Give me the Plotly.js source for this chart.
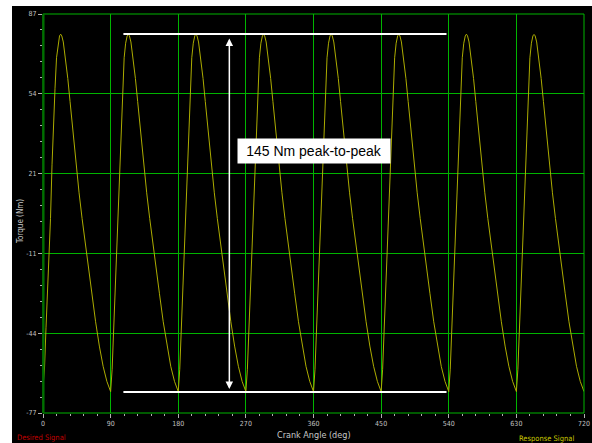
<!DOCTYPE html>
<html>
<head>
<meta charset="utf-8">
<script src="https://cdn.plot.ly/plotly-3.0.1.min.js"></script>
<style>
  html, body { margin: 0; padding: 0; background: #ffffff; width: 592px; height: 443px; overflow: hidden; }
  #chart { position: absolute; left: 12px; top: 6px; width: 580px; height: 437px; }
</style>
</head>
<body>
<div id="chart"></div>
<script>
// ---- data ----
const cycleStartAngle = [0, 90, 180, 270, 360, 450, 540, 630];
const cycleAngleOffset = [0, 2, 4, 6, 8, 10, 12, 14, 16, 18, 20, 22, 23.5, 25, 27, 30, 33, 36, 40, 44, 48, 52, 56, 60, 65, 70, 75, 80, 85];
const torqueCycle1 = [-66.5, -58.5, -42, -27, -14, 3, 25, 43, 56.5, 69, 75, 78, 78.7, 78, 75.5, 69, 60.5, 51, 38, 24.5, 13.5, 3, -7, -16.5, -28, -39.5, -49.5, -57.8, -64];
const torqueCycle2 = [-68.2, -59, -42, -27, -14, 3, 25, 43, 56.5, 69, 75, 78, 78.6, 78, 75.5, 69, 60.5, 51, 38, 24.5, 13.5, 3, -7, -16.5, -28, -39.5, -49.5, -57.8, -64];
const torqueCycle3 = [-68.2, -59, -42, -27, -14, 3, 25, 43, 56.5, 69, 75, 78, 78.7, 78, 75.5, 69, 60.5, 51, 38, 24.5, 13.5, 3, -7, -16.5, -28, -39.5, -49.5, -57.8, -64];
const torqueCycle4 = [-68.2, -59, -42, -27, -14, 3, 25, 43, 56.5, 69, 75, 78, 78.6, 78, 75.5, 69, 60.5, 51, 38, 24.5, 13.5, 3, -7, -16.5, -28, -39.5, -49.5, -57.8, -64];
const torqueCycle5 = [-68.2, -59, -42, -27, -14, 3, 25, 43, 56.5, 69, 75, 78, 78.7, 78, 75.5, 69, 60.5, 51, 38, 24.5, 13.5, 3, -7, -16.5, -28, -39.5, -49.5, -57.8, -64];
const torqueCycle6 = [-68.2, -59, -42, -27, -14, 3, 25, 43, 56.5, 69, 75, 78, 78.6, 78, 75.5, 69, 60.5, 51, 38, 24.5, 13.5, 3, -7, -16.5, -28, -39.5, -49.5, -57.8, -64];
const torqueCycle7 = [-68.2, -59, -42, -27, -14, 3, 25, 43, 56.5, 69, 75, 78, 78.7, 78, 75.5, 69, 60.5, 51, 38, 24.5, 13.5, 3, -7, -16.5, -28, -39.5, -49.5, -57.8, -64];
const torqueCycle8 = [-68.2, -59, -42, -27, -14, 3, 25, 43, 56.5, 69, 75, 78, 78.6, 78, 75.5, 69, 60.5, 51, 38, 24.5, 13.5, 3, -7, -16.5, -28, -39.5, -49.5, -57.8, -64];
const finalAngle = 720;
const finalTorque = -68.2;

const yTickVals = [-77, -44.2, -11.4, 21.4, 54.2, 87];
const yTickText = ['-77', '-44', '-11', '21', '54', '87'];
const xTickVals = [0, 90, 180, 270, 360, 450, 540, 630, 720];

// reference annotation values
const refAngleRange = [107, 537];
const peakTorque = 78.8;
const troughTorque = -68.4;
const arrowAngle = 248;
const labelText = '145 Nm peak-to-peak';
const labelAngle = 361;
const labelTorque = 30.7;

// ---- build series ----
const cycles = [torqueCycle1, torqueCycle2, torqueCycle3, torqueCycle4, torqueCycle5, torqueCycle6, torqueCycle7, torqueCycle8];
const angle = [], torque = [];
cycles.forEach((c, i) => {
  c.forEach((v, j) => { angle.push(cycleStartAngle[i] + cycleAngleOffset[j]); torque.push(v); });
});
angle.push(finalAngle); torque.push(finalTorque);

const narrow = 'Liberation Sans Narrow, DejaVu Sans Condensed, Arial, sans-serif';
const grid = '#00b400';

const trace = {
  x: angle, y: torque, type: 'scatter', mode: 'lines',
  line: { color: '#acac00', width: 1 }, hoverinfo: 'skip'
};

const layout = {
  width: 580, height: 437,
  margin: { l: 31, r: 8, t: 8, b: 30 },
  paper_bgcolor: '#000000', plot_bgcolor: '#000000',
  showlegend: false,
  xaxis: {
    range: [0, 720], tickmode: 'array', tickvals: xTickVals,
    showgrid: true, gridcolor: grid, gridwidth: 1,
    showline: false, zeroline: false,
    ticks: 'outside', ticklen: 4, tickcolor: '#b0b0b0', tickwidth: 1,
    tickfont: { family: narrow, size: 7, color: '#c0c0c0' },
    minor: { tick0: 0, dtick: 18, ticks: 'outside', ticklen: 2, tickcolor: '#b0b0b0', showgrid: false, gridcolor: grid, gridwidth: 1 }
  },
  yaxis: {
    range: [-77, 87], tickmode: 'array', tickvals: yTickVals, ticktext: yTickText,
    showgrid: true, gridcolor: grid, gridwidth: 1,
    showline: false, zeroline: false,
    ticks: 'outside', ticklen: 4, tickcolor: '#b0b0b0', tickwidth: 1,
    tickfont: { family: narrow, size: 7, color: '#c0c0c0' },
    minor: { tick0: -77, dtick: 6.56, ticks: 'outside', ticklen: 2, tickcolor: '#b0b0b0', showgrid: false, gridcolor: grid, gridwidth: 1 }
  },
  shapes: [
    { type: 'rect', xref: 'paper', yref: 'paper', x0: 0, x1: 1, y0: 0, y1: 1, line: { color: grid, width: 1 }, layer: 'above' },
    { type: 'line', xref: 'paper', yref: 'paper', x0: 0.001, x1: 0.001, y0: 0, y1: 1, line: { color: '#007000', width: 2 }, layer: 'above' },
    { type: 'line', xref: 'x', yref: 'y', x0: refAngleRange[0], x1: refAngleRange[1], y0: peakTorque, y1: peakTorque, line: { color: '#ffffff', width: 2 } },
    { type: 'line', xref: 'x', yref: 'y', x0: refAngleRange[0], x1: refAngleRange[1], y0: troughTorque, y1: troughTorque, line: { color: '#ffffff', width: 2 } }
  ],
  annotations: [
    { x: arrowAngle, y: troughTorque, ax: arrowAngle, ay: peakTorque, axref: 'x', ayref: 'y', xref: 'x', yref: 'y',
      text: '', showarrow: true, arrowside: 'end+start', arrowhead: 2, arrowsize: 1, arrowwidth: 1.5, arrowcolor: '#ffffff', standoff: 3, startstandoff: 3 },
    { x: labelAngle, y: labelTorque, xref: 'x', yref: 'y', text: labelText, showarrow: false,
      font: { family: 'Arial, Liberation Sans, sans-serif', size: 14, color: '#000000' },
      bgcolor: '#ffffff', borderpad: 3, width: 146, height: 18 },
    { x: 0.5, y: 0, xref: 'paper', yref: 'paper', text: 'Crank Angle (deg)', showarrow: false,
      xanchor: 'center', yanchor: 'middle', font: { family: narrow, size: 9, color: '#c8c8c8' } },
    { text: 'Torque (Nm)', textangle: -90, showarrow: false, xref: 'paper', yref: 'paper', x: 0, y: 0.5,
      xanchor: 'center', yanchor: 'middle', font: { family: narrow, size: 8, color: '#c8c8c8' } },
    { text: 'Desired Signal', showarrow: false, xref: 'paper', yref: 'paper', x: 0, y: 0,
      xanchor: 'left', yanchor: 'middle', font: { family: narrow, size: 7.5, color: '#c00000' } },
    { text: 'Response Signal', showarrow: false, xref: 'paper', yref: 'paper', x: 1, y: 0,
      xanchor: 'right', yanchor: 'middle', font: { family: narrow, size: 7.5, color: '#c8c800' } }
  ]
};

// place text annotations in pixels relative to the plot area (541 x 399, top-left at page 43,14)
const ph = 399;
layout.annotations[2].yshift = -(435 - 6 - 8 - ph);
layout.annotations[3].xshift = (20 - 12) - 31;
layout.annotations[3].yshift = -((222 - 6) - (8 + ph / 2));
layout.annotations[4].xshift = (15 - 12) - 31; layout.annotations[4].yshift = -(437 - 6 - 8 - ph);
layout.annotations[5].xshift = 576 - 584; layout.annotations[5].yshift = -(438 - 6 - 8 - ph);

Plotly.newPlot('chart', [trace], layout, { staticPlot: true, displayModeBar: false });
</script>
</body>
</html>
